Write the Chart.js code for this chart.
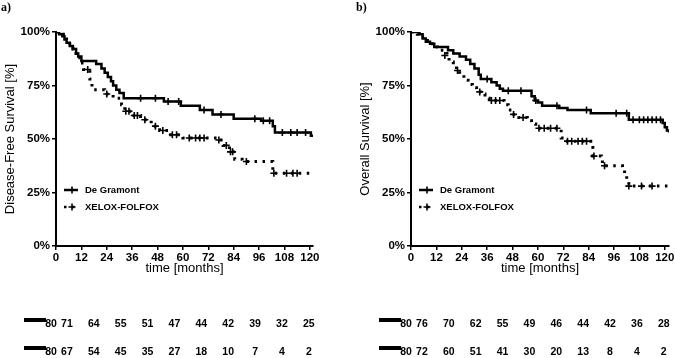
<!DOCTYPE html>
<html>
<head>
<meta charset="utf-8">
<script src="https://cdn.jsdelivr.net/npm/chart.js@4.4.1/dist/chart.umd.min.js"></script>
<style>
html,body{margin:0;padding:0;background:#fff;overflow:hidden;}
#wrap{position:relative;width:675px;height:358px;}
canvas{position:absolute;top:0;}
#chartA{left:0;}
#chartB{left:355px;}
</style>
</head>
<body>
<div id="wrap">
<canvas id="chartA" width="337" height="358"></canvas>
<canvas id="chartB" width="338" height="358"></canvas>
</div>
<script>
/* AXIS TICKS */
const xTicks = [0,12,24,36,48,60,72,84,96,108,120];
const yTicks = [0,25,50,75,100];
const seriesNames = ['De Gramont','XELOX-FOLFOX'];

/* DISEASE-FREE SURVIVAL: [month, %] */
const dfsGramont = [[0,100],[1.5,99],[3,98],[4,96.5],[5,95],[6.5,93.5],[8,92],[9.5,90],[10.5,88.5],[12,86.5],[19,85],[21.5,83],[23,81],[24.5,79],[26,77],[27,75],[28.5,73],[30,71.5],[32,69],[51,67.5],[59,65.5],[68,63.5],[74,61.5],[84,59.5],[97,58.5],[102.5,56],[103.5,53],[120.5,51.5],[121.5,51.5]];
const dfsGramontCens = [[40,69],[47,69],[53,67.5],[58,67.5],[70,63.5],[78,61.5],[94,59.5],[98,58.5],[101,58.5],[107,53],[111,53],[114,53],[118,53]];
const dfsXelox = [[0,100],[2,99],[3.5,97.5],[5,96],[6.5,94],[8,92],[9.5,90],[10.5,88],[11.5,85.5],[13,82.5],[16,78],[17,73],[23,71],[27,69],[31,66],[32.5,63],[36,61],[40,59],[45,56],[49,54],[53,52],[60,50.5],[76,49.5],[79,47],[82,44],[84.5,40.5],[88,39.5],[102.5,34],[121,34]];
const dfsXeloxCens = [[15,82.5],[24,71],[33,63],[34.5,63],[37,61],[38.5,61],[42,59],[47,56],[50.5,54],[55,52],[57,52],[63,50.5],[66,50.5],[68,50.5],[70,50.5],[77,49.5],[80.5,47],[82.5,44],[83.5,44],[90,39.5],[103,34],[109,34],[112,34],[114,34]];

/* OVERALL SURVIVAL: [month, %] */
const osGramont = [[0,100],[4,99],[5.5,97],[7,95.5],[9,94.5],[11,93],[17.5,91.5],[20,90],[23,88.5],[26,87],[28,85],[30,83],[32,80],[33,78],[38,76.5],[40.5,75],[42,73.5],[43.5,72.5],[57,70],[58.5,68],[60,67],[62,65.5],[70,64.5],[74,63.5],[85,62],[103,59],[119,57.5],[120,55.5],[121,54],[122,53]];
const osGramontCens = [[36,78],[46,72.5],[52,72.5],[59,68],[69,65.5],[83,63.5],[97,62],[102,62],[105,59],[108,59],[110,59],[112,59],[114,59],[116,59],[118,59]];
const osXelox = [[0,100],[3,99],[5,97.5],[7,96],[9,94.5],[11,93],[12.5,91.5],[17,89],[18,86],[20,84],[21.5,82],[23,80],[25,77.5],[27,75.5],[29,74],[31,72],[33,71],[35,69],[37,68],[44,66],[46,63.5],[48,61.5],[51,60],[55,58.5],[57,57],[59,55],[71,50.5],[73,49],[85,46],[86,42],[90,41],[90.5,37.5],[100,35.5],[101,33],[102,30.5],[103,28],[122,28]];
const osXeloxCens = [[16,89],[22,82],[32.5,72],[38,68],[40,68],[42,68],[48.5,61.5],[53,60],[60.5,55],[63,55],[66,55],[69,55],[74,49],[76,49],[79,49],[81,49],[83,49],[86.5,42],[91.5,37.5],[103,28],[109,28],[114,28]];

/* NUMBER AT RISK */
const riskTimes = [0,12,24,36,48,60,72,84,96,108,120];
const dfsRiskGramont = [80,71,64,55,51,47,44,42,39,32,25];
const dfsRiskXelox = [80,67,54,45,35,27,18,10,7,4,2];
const osRiskGramont = [80,76,70,62,55,49,46,44,42,36,28];
const osRiskXelox = [80,72,60,51,41,30,20,13,8,4,2];

const SANS = '"Liberation Sans", Arial, sans-serif';
const DOTS = [2.5,5.5];

function pts(a){ return a.map(p => ({x:p[0], y:p[1]})); }

/* panel letter, legend and at-risk table */
const extras = {
  id:'extras',
  afterDraw(chart, args, o){
    const ctx = chart.ctx, xs = chart.scales.x, ca = chart.chartArea;
    ctx.save();
    ctx.fillStyle = '#000';
    ctx.strokeStyle = '#000';

    ctx.font = 'bold 12px "Liberation Serif", serif';
    ctx.textBaseline = 'middle';
    ctx.textAlign = 'left';
    ctx.fillText(o.letter, 1, 8);

    // legend
    ctx.font = 'bold 9.5px ' + SANS;
    [190, 207].forEach((y, i) => {
      const x0 = ca.left + 8, x1 = ca.left + 22;
      ctx.lineWidth = 2.5;
      ctx.setLineDash(i === 0 ? [] : DOTS);
      ctx.beginPath(); ctx.moveTo(x0, y); ctx.lineTo(x1, y); ctx.stroke();
      ctx.setLineDash([]);
      ctx.lineWidth = 1.6;
      const cx = x0 + 8;
      ctx.beginPath();
      ctx.moveTo(cx - 3.5, y); ctx.lineTo(cx + 3.5, y);
      ctx.moveTo(cx, y - 3.5); ctx.lineTo(cx, y + 3.5);
      ctx.stroke();
      ctx.fillText(seriesNames[i], ca.left + 29, y + 0.5);
    });

    // number at risk
    const t0 = xs.left - 16, t1 = xs.getPixelForValue(120) - 1;
    ctx.font = 'bold 10.5px ' + SANS;
    ctx.textAlign = 'center';
    o.risk.forEach((row, r) => {
      const y = [324, 352][r];
      ctx.fillRect(24, y - 6, 22, 4);
      row.forEach((n, i) => {
        const px = i === 0 ? 51 : t0 + riskTimes[i] / 120 * (t1 - t0);
        ctx.fillText(String(n), px, y);
      });
    });
    ctx.restore();
  }
};

function makeChart(id, letter, yTitle, gram, gramC, xel, xelC, risk, xMax){
  return new Chart(document.getElementById(id), {
    type:'line',
    data:{
      datasets:[
        {label:seriesNames[0], data:pts(gram), stepped:'before', borderColor:'#000', borderWidth:2.5, pointRadius:0, fill:false},
        {label:seriesNames[0]+' censored', data:pts(gramC), showLine:false, pointStyle:'cross', pointRadius:3.5, borderColor:'#000', borderWidth:1.6},
        {label:seriesNames[1], data:pts(xel), stepped:'before', borderColor:'#000', borderWidth:3, borderDash:DOTS, borderCapStyle:'butt', pointRadius:0, fill:false},
        {label:seriesNames[1]+' censored', data:pts(xelC), showLine:false, pointStyle:'cross', pointRadius:3.5, borderColor:'#000', borderWidth:1.6}
      ]
    },
    options:{
      responsive:false,
      animation:false,
      devicePixelRatio:1,
      layout:{padding:{top:32, right:24, bottom:78, left:0}},
      plugins:{
        legend:{display:false},
        tooltip:{enabled:false},
        extras:{letter:letter, risk:risk}
      },
      scales:{
        x:{
          type:'linear', min:0, max:xMax,
          afterBuildTicks: s => { s.ticks = xTicks.map(v => ({value:v})); },
          afterFit: s => { s.height = 34; },
          border:{color:'#000', width:2},
          grid:{drawOnChartArea:false, color:'#000', lineWidth:1.5, tickLength:4},
          ticks:{color:'#000', padding:1, maxRotation:0, autoSkip:false, font:{family:SANS, size:11.5, weight:'bold'}},
          title:{display:true, text:'time [months]', color:'#000', padding:{top:0, bottom:4}, font:{family:SANS, size:13}}
        },
        y:{
          min:0, max:100,
          afterBuildTicks: s => { s.ticks = yTicks.map(v => ({value:v})); },
          afterFit: s => { s.width = 56; },
          border:{color:'#000', width:2},
          grid:{drawOnChartArea:false, color:'#000', lineWidth:1.5, tickLength:4},
          ticks:{color:'#000', padding:2, callback: v => v + '%', font:{family:SANS, size:11.5, weight:'bold'}},
          title:{display:true, text:yTitle, color:'#000', padding:{top:3, bottom:0}, font:{family:SANS, size:13}}
        }
      }
    },
    plugins:[extras]
  });
}

makeChart('chartA', 'a)', 'Disease-Free Survival [%]', dfsGramont, dfsGramontCens, dfsXelox, dfsXeloxCens, [dfsRiskGramont, dfsRiskXelox], 121.5);
makeChart('chartB', 'b)', 'Overall Survival [%]', osGramont, osGramontCens, osXelox, osXeloxCens, [osRiskGramont, osRiskXelox], 122);
</script>
</body>
</html>
